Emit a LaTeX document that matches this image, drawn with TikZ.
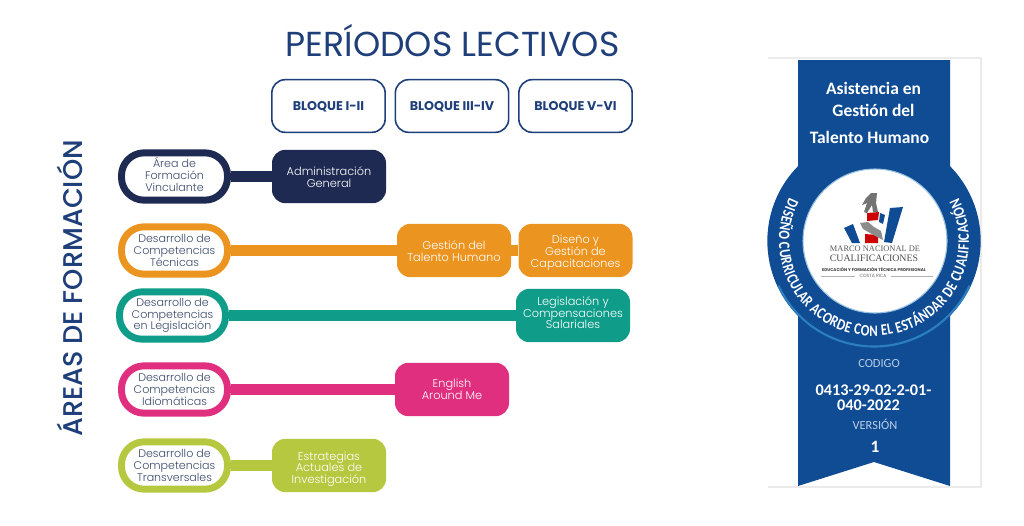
\documentclass[tikz,border=0pt]{standalone}
\usepackage{fontspec}
\setmainfont{Poppins}
\newfontfamily\lightfont{Poppins Light}
\newfontfamily\medfont{Poppins Medium}
\newfontfamily\badgefont{Carlito}
\newfontfamily\arcfont[FakeStretch=0.8]{Carlito}
\newfontfamily\logofont{Liberation Serif}
\usetikzlibrary{decorations.text}
\definecolor{navy}{HTML}{1E2A52}
\definecolor{orangeC}{HTML}{EC9420}
\definecolor{tealC}{HTML}{0F9D8A}
\definecolor{pinkC}{HTML}{DF2F7E}
\definecolor{limeC}{HTML}{B6C83F}
\definecolor{ink}{HTML}{1F3F7A}
\definecolor{bodyink}{HTML}{3B4A6B}
\definecolor{ribbon}{HTML}{0F4C94}
\definecolor{ribbonlight}{HTML}{2B7FC0}
\definecolor{palelabel}{HTML}{B9CDE6}
% vertical nudges of the text inside a node: a strut on the first line pushes it down, on the last line lifts it
\newcommand\tdn[1]{\rule{0pt}{#1}}
\newcommand\tup[1]{\rule[-#1]{0pt}{#1}}
\tikzset{
  x=0.75pt,y=-0.75pt,
  pill/.style={draw=#1,line width=5.2pt,fill=white,rounded corners=17pt,minimum width=79.5pt,minimum height=35.5pt,inner sep=0pt,align=center,text=bodyink,font=\lightfont\fontsize{8.3}{8.8}\selectfont},
  course/.style={fill=#1,rounded corners=10pt,minimum width=85.5pt,minimum height=40pt,inner sep=0pt,align=center,text=white,font=\lightfont\fontsize{8.5}{8.8}\selectfont},
  block/.style={draw=ink,line width=1.2pt,fill=white,rounded corners=10pt,minimum width=85pt,minimum height=39.5pt,inner sep=0pt,align=center,text=ink,font=\bfseries\fontsize{9.5}{10}\selectfont},
  bar/.style={draw=#1,line width=8.4pt},
  badgetext/.style={text=white,align=center,font=\badgefont\bfseries},
  headline/.style={text=white,font=\badgefont\bfseries\fontsize{13.1}{15}\selectfont},
  palelabeltext/.style={text=palelabel,font=\badgefont\fontsize{9.3}{10}\selectfont},
  logomark/.style={fill=#1,draw=none},
}
\begin{document}
\begin{tikzpicture}
\useasboundingbox (0,0) rectangle (1024,525);
\fill[white] (0,0) rectangle (1024,525);
% titles
\node[text=ink,font=\fontsize{26}{28}\selectfont] (title) at (452.5,40.5) {PERÍODOS LECTIVOS};
\node[text=ink,font=\medfont\fontsize{20.3}{24}\selectfont,rotate=90] (areas) at (70,288.5) {ÁREAS DE FORMACIÓN};
% headers
\node[block] (b1) at (328.5,106) {\tdn{8.5pt}BLOQUE I-II};
\node[block] (b2) at (452,106) {\tdn{8.5pt}BLOQUE III-IV};
\node[block] (b3) at (575.5,106) {\tdn{8.5pt}BLOQUE V-VI};
% rows
\node[pill=navy] (p1) at (174.5,176.5) {Área de\\Formación\\Vinculante\tup{3pt}};
\node[course=navy] (c1) at (329,176.5) {\tdn{8pt}Administración\\General};
\node[pill=orangeC] (p2) at (174.5,250.5) {Desarrollo de\\Competencias\\Técnicas};
\node[course=orangeC] (c2) at (454,250.5) {\tdn{8pt}Gestión del\\Talento Humano};
\node[course=orangeC] (c3) at (575.5,250.5) {\tdn{10pt}Diseño y\\Gestión de\\Capacitaciones};
\node[pill=tealC] (p3) at (172.5,315.5) {Desarrollo de\\Competencias\\en Legislación};
\node[course=tealC] (c4) at (573,315.5) {Legislación y\\Compensaciones\\Salariales\tup{4pt}};
\node[pill=pinkC] (p4) at (174.5,389.5) {Desarrollo de\\Competencias\\Idiomáticas};
\node[course=pinkC] (c5) at (452,389.5) {English\\Around Me};
\node[pill=limeC] (p5) at (174.5,465.5) {Desarrollo de\\Competencias\\Transversales};
\node[course=limeC] (c6) at (329,465.5) {\tdn{12pt}Estrategias\\Actuales de\\Investigación};
\draw[bar=navy] (p1) -- (c1);
\draw[bar=orangeC] (p2) -- (c2);
\draw[bar=orangeC] (c2) -- (c3);
\draw[bar=tealC] (p3) -- (c4);
\draw[bar=pinkC] (p4) -- (c5);
\draw[bar=limeC] (p5) -- (c6);
% badge
\draw[black!8,line width=0.9pt] (768,58) -- (981,58) -- (981,487) -- (768,487);
\fill[ribbon] (798,60) -- (950,60) -- (950,486) -- (874,462) -- (798,486) -- cycle;
\draw[ribbonlight,opacity=0.3,line width=0.4pt,dotted] (804,350) -- (804,478) -- (874,455) -- (944,478) -- (944,350);
\fill[ribbon] (874,241) circle[radius=80pt];
\draw[ribbonlight,line width=1.6pt] (874,241) ++(155:105.5) arc (155:25:105.5);
\fill[white,draw=ribbonlight!50,line width=0.8pt] (875,241) circle[radius=54pt];
\node[headline] (t1) at (873.5,88) {Asistencia en};
\node[headline] (t2) at (873.5,110) {Gestión del};
\node[headline] (t3) at (869.5,137) {Talento Humano};
\path[postaction={decorate},decoration={text along path,text align=fit to path,
  text={|\arcfont\bfseries\fontsize{12}{13}\selectfont\color{white}|DISEÑO CURRICULAR ACORDE CON EL ESTÁNDAR DE CUALIFICACIÓN}}]
  (874,241) ++(207:95) arc (207:-27:95);
\node[palelabeltext] (cod) at (879,364) {CODIGO};
\node[badgetext,font=\badgefont\bfseries\fontsize{12.2}{11.4}\selectfont] (num) at (873.5,398) {0413-29-02-2-01-\\040-2022\hspace*{7.5pt}};
\node[palelabeltext] (ver) at (875,424) {VERSIÓN};
\node[badgetext,font=\badgefont\bfseries\fontsize{13}{14}\selectfont] (one) at (875,447) {1};
% logo
\fill[logomark=ribbon] (890,208) -- (903,207) -- (892,243) -- (884,242) -- cycle;
\fill[logomark=ribbon] (844,228) -- (853,224) -- (860,243) -- (852,243) -- cycle;
\fill[logomark=ribbon] (880,213) -- (885,215) -- (883,224) -- (879,222) -- cycle;
\fill[logomark=red!80!black] (867,213) -- (879,212) -- (878,220) -- (867,221) -- cycle;
\fill[logomark=red!80!black] (865,234) -- (878,235) -- (878,243) -- (865,243) -- cycle;
\fill[logomark=black!45] (860,223) -- (868,222) -- (874,227) -- (881,231) -- (883,240) -- (877,237) -- (870,233) -- (863,229) -- cycle;
\fill[logomark=black!55] (871,193) -- (877,193) -- (876,203) -- (878,212) -- (873,212) -- (872,205) -- (867,213) -- (864,212) -- (867,203) -- (862,205) -- (866,198) -- cycle;
\node[text=black!65,font=\logofont\fontsize{6.3}{6.3}\selectfont] (m1) at (875,249) {MARCO NACIONAL DE};
\node[text=black!70,font=\logofont\fontsize{7.4}{8}\selectfont] (m2) at (874,258) {CUALIFICACIONES};
\node[text=black!75,font=\bfseries\fontsize{3.1}{3.2}\selectfont] (m3) at (874,269) {EDUCACIÓN Y FORMACIÓN TÉCNICA PROFESIONAL};
\node[text=black!60,font=\fontsize{3.4}{3.4}\selectfont] (m4) at (873,276) {COSTA RICA};
\draw[black!30,line width=0.3pt] (m4.west) -- ++(-34,0);
\draw[black!30,line width=0.3pt] (m4.east) -- ++(42,0);
\end{tikzpicture}
\end{document}
